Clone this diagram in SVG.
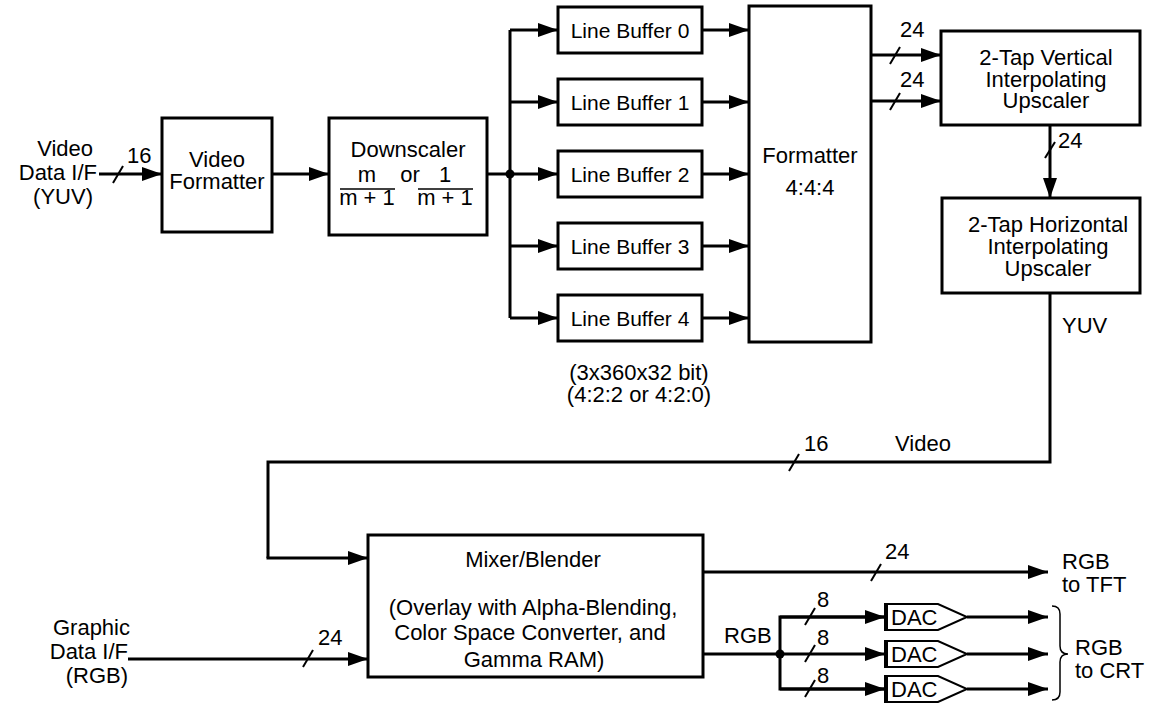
<svg xmlns="http://www.w3.org/2000/svg" width="1157" height="704" viewBox="0 0 1157 704">
<style>
text{font-family:"Liberation Sans",Arial,sans-serif;font-size:22px;fill:#000}
.m{text-anchor:middle}
.e{text-anchor:end}
.lb{font-size:21px}
.box{fill:#fff;stroke:#000;stroke-width:3}
.w{fill:none;stroke:#000;stroke-width:3}
.s{fill:none;stroke:#000;stroke-width:2}
</style>
<defs>
<marker id="ah" markerUnits="userSpaceOnUse" markerWidth="22" markerHeight="16" refX="20" refY="7" orient="auto">
<path d="M0,0 L20,7 L0,14 Z" fill="#000"/>
</marker>
</defs>
<rect width="1157" height="704" fill="#fff"/>

<g id="connectors">
<line class="w" x1="99" y1="174" x2="162" y2="174" marker-end="url(#ah)"/>
<line class="s" x1="113" y1="183" x2="123" y2="166"/>
<line class="w" x1="272" y1="174" x2="329" y2="174" marker-end="url(#ah)"/>
<line class="w" x1="487" y1="174" x2="510" y2="174"/>
<line class="w" x1="510" y1="30" x2="510" y2="318"/>
<circle cx="510" cy="174" r="4.5" fill="#000"/>
<line class="w" x1="510" y1="30" x2="558" y2="30" marker-end="url(#ah)"/>
<line class="w" x1="510" y1="102" x2="558" y2="102" marker-end="url(#ah)"/>
<line class="w" x1="510" y1="174" x2="558" y2="174" marker-end="url(#ah)"/>
<line class="w" x1="510" y1="246" x2="558" y2="246" marker-end="url(#ah)"/>
<line class="w" x1="510" y1="318" x2="558" y2="318" marker-end="url(#ah)"/>
<line class="w" x1="702" y1="30" x2="749" y2="30" marker-end="url(#ah)"/>
<line class="w" x1="702" y1="102" x2="749" y2="102" marker-end="url(#ah)"/>
<line class="w" x1="702" y1="174" x2="749" y2="174" marker-end="url(#ah)"/>
<line class="w" x1="702" y1="246" x2="749" y2="246" marker-end="url(#ah)"/>
<line class="w" x1="702" y1="318" x2="749" y2="318" marker-end="url(#ah)"/>
<line class="w" x1="871" y1="55" x2="941" y2="55" marker-end="url(#ah)"/>
<line class="s" x1="890" y1="64" x2="900" y2="47"/>
<text x="900" y="37">24</text>
<line class="w" x1="871" y1="101" x2="941" y2="101" marker-end="url(#ah)"/>
<line class="s" x1="890" y1="110" x2="900" y2="93"/>
<text x="900" y="87">24</text>
<line class="w" x1="1050" y1="125" x2="1050" y2="198" marker-end="url(#ah)"/>
<line class="s" x1="1045" y1="158" x2="1055" y2="142"/>
<text x="1058" y="148">24</text>
<polyline class="w" points="1050,293 1050,462 268,462 268,558"/>
<line class="w" x1="266.5" y1="558" x2="368" y2="558" marker-end="url(#ah)"/>
<line class="s" x1="789" y1="471" x2="799" y2="454"/>
<text x="804" y="451">16</text>
<text x="895" y="451">Video</text>
<text x="1062" y="333">YUV</text>
<line class="w" x1="128" y1="659" x2="368" y2="659" marker-end="url(#ah)"/>
<line class="s" x1="303" y1="667" x2="313" y2="650"/>
<text x="318" y="645">24</text>
<line class="w" x1="703" y1="572" x2="1048" y2="572" marker-end="url(#ah)"/>
<line class="s" x1="871" y1="581" x2="881" y2="564"/>
<text x="885" y="559">24</text>
<line class="w" x1="703" y1="654" x2="780" y2="654"/>
<polyline class="w" points="885,617 780,617 780,689 885,689"/>
<line class="w" x1="780" y1="617" x2="885" y2="617" marker-end="url(#ah)"/>
<line class="w" x1="780" y1="654" x2="885" y2="654" marker-end="url(#ah)"/>
<line class="w" x1="780" y1="689" x2="885" y2="689" marker-end="url(#ah)"/>
<circle cx="780" cy="654" r="4.5" fill="#000"/>
<line class="s" x1="805" y1="625" x2="815" y2="608"/>
<text x="817" y="607">8</text>
<line class="s" x1="805" y1="662" x2="815" y2="645"/>
<text x="817" y="645">8</text>
<line class="s" x1="805" y1="697" x2="815" y2="680"/>
<text x="817" y="683">8</text>
<text x="724" y="643">RGB</text>
<line class="w" x1="967" y1="617" x2="1048" y2="617" marker-end="url(#ah)"/>
<line class="w" x1="967" y1="654" x2="1048" y2="654" marker-end="url(#ah)"/>
<line class="w" x1="967" y1="689" x2="1048" y2="689" marker-end="url(#ah)"/>
<path d="M1052,606 Q1060,606 1060,614 L1060,646 Q1060,654 1068,654 Q1060,654 1060,662 L1060,692 Q1060,700 1052,700" fill="none" stroke="#000" stroke-width="1.5"/>
</g>

<g id="video-in">
<text class="e" x="93" y="156">Video</text>
<text class="e" x="97" y="180">Data I/F</text>
<text class="e" x="93" y="204">(YUV)</text>
<text x="127" y="163">16</text>
</g>

<g id="video-formatter">
<rect class="box" x="162" y="118" width="110" height="114"/>
<text class="m" x="217" y="167">Video</text>
<text class="m" x="217" y="189">Formatter</text>
</g>

<g id="downscaler">
<rect class="box" x="329" y="118" width="158" height="117"/>
<text class="m" x="408" y="157">Downscaler</text>
<text class="m" x="367" y="182">m</text>
<text class="m" x="410" y="182">or</text>
<text class="m" x="445" y="182">1</text>
<line x1="340" y1="189" x2="395" y2="189" stroke="#000" stroke-width="1.5"/>
<line x1="418" y1="189" x2="473" y2="189" stroke="#000" stroke-width="1.5"/>
<text class="m" x="367" y="205">m + 1</text>
<text class="m" x="445" y="205">m + 1</text>
</g>

<g id="lb0"><rect class="box" x="558" y="7" width="144" height="46"/><text class="m lb" x="630" y="38">Line Buffer 0</text></g>
<g id="lb1"><rect class="box" x="558" y="79" width="144" height="46"/><text class="m lb" x="630" y="110">Line Buffer 1</text></g>
<g id="lb2"><rect class="box" x="558" y="151" width="144" height="46"/><text class="m lb" x="630" y="182">Line Buffer 2</text></g>
<g id="lb3"><rect class="box" x="558" y="223" width="144" height="46"/><text class="m lb" x="630" y="254">Line Buffer 3</text></g>
<g id="lb4"><rect class="box" x="558" y="295" width="144" height="46"/><text class="m lb" x="630" y="326">Line Buffer 4</text></g>
<g id="lb-note">
<text class="m" x="639" y="380">(3x360x32 bit)</text>
<text class="m" x="639" y="402">(4:2:2 or 4:2:0)</text>
</g>

<g id="formatter">
<rect class="box" x="749" y="6" width="122" height="336"/>
<text class="m" x="810" y="163">Formatter</text>
<text class="m" x="810" y="195">4:4:4</text>
</g>

<g id="v-upscaler">
<rect class="box" x="941" y="31" width="199" height="94"/>
<text class="m" x="1046" y="65">2-Tap Vertical</text>
<text class="m" x="1046" y="87">Interpolating</text>
<text class="m" x="1046" y="108">Upscaler</text>
</g>

<g id="h-upscaler">
<rect class="box" x="942" y="198" width="198" height="95"/>
<text class="m" x="1048" y="232">2-Tap Horizontal</text>
<text class="m" x="1048" y="254">Interpolating</text>
<text class="m" x="1048" y="276">Upscaler</text>
</g>

<g id="mixer">
<rect class="box" x="368" y="535" width="335" height="142"/>
<text class="m" x="533" y="567">Mixer/Blender</text>
<text class="m" x="533" y="615">(Overlay with Alpha-Blending,</text>
<text class="m" x="530" y="640">Color Space Converter, and</text>
<text class="m" x="534" y="667">Gamma RAM)</text>
</g>

<g id="graphic-in">
<text class="e" x="130" y="635">Graphic</text>
<text class="e" x="128" y="659">Data I/F</text>
<text class="e" x="128" y="683">(RGB)</text>
</g>

<g id="dac0"><path class="s" d="M885,604 H938 L967,617 L938,630 H885 Z" fill="#fff"/><line x1="886" y1="603" x2="886" y2="631" stroke="#000" stroke-width="4"/><text x="891" y="625">DAC</text></g>
<g id="dac1"><path class="s" d="M885,641 H938 L967,654 L938,667 H885 Z" fill="#fff"/><line x1="886" y1="640" x2="886" y2="668" stroke="#000" stroke-width="4"/><text x="891" y="662">DAC</text></g>
<g id="dac2"><path class="s" d="M885,676 H938 L967,689 L938,702 H885 Z" fill="#fff"/><line x1="886" y1="675" x2="886" y2="703" stroke="#000" stroke-width="4"/><text x="891" y="697">DAC</text></g>

<g id="outputs">
<text x="1062" y="569">RGB</text>
<text x="1062" y="592">to TFT</text>
<text x="1075" y="655">RGB</text>
<text x="1075" y="678">to CRT</text>
</g>
</svg>
